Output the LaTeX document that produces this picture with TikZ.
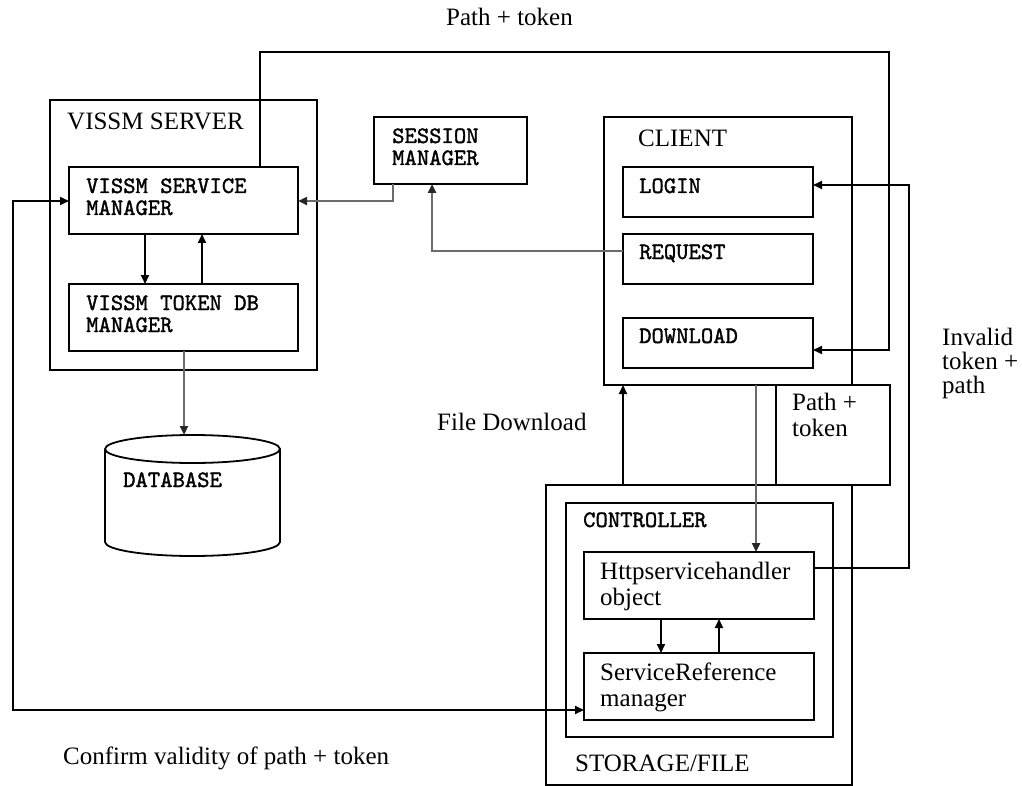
\documentclass[tikz,border=0pt]{standalone}
\usepackage{fontspec}
\setmainfont{Liberation Serif}
\newfontfamily\boxmono[FakeBold=1.4]{lmmono10-regular.otf}
\usetikzlibrary{arrows.meta}

\begin{document}
\begin{tikzpicture}[x=1pt,y=-1pt,
  box/.style={draw, line width=1.8pt, inner sep=0pt, outer sep=0pt, anchor=north west},
  % text nodes are placed at the baseline of their last line
  serif/.style={font=\fontsize{25}{26}\selectfont, inner sep=0pt, anchor=base west, align=left},
  mono/.style={font=\boxmono\fontsize{23.5}{22}\selectfont, inner sep=0pt, anchor=base west, align=left},
  link/.style={line width=1.8pt, -{Triangle[length=9pt,width=8pt]}},
  glink/.style={line width=2.4pt, draw=black!58, -{Triangle[length=9pt,width=8pt,color=black!85]}},
  both/.style={line width=1.8pt, {Triangle[length=9pt,width=8pt]}-{Triangle[length=9pt,width=8pt]}},
]
% canvas
\fill[white] (0,0) rectangle (1022,786);
\useasboundingbox (0,0) rectangle (1022,786);

% ---- server side ----
\node[box, minimum width=267, minimum height=270] (server) at (50,100) {};
\node[serif] (server-t) at (67,130) {VISSM SERVER};
\node[box, minimum width=229, minimum height=67] (vsm) at (69,167) {};
\node[mono] (vsm-t) at (86,215) {VISSM SERVICE\\MANAGER};
\node[box, minimum width=229, minimum height=67] (tdb) at (69,284) {};
\node[mono] (tdb-t) at (86,332) {VISSM TOKEN DB\\MANAGER};

% database cylinder
\draw[line width=1.8pt, fill=white] (105,449) -- (105,542)
  arc[start angle=180, end angle=0, x radius=87.5, y radius=14] -- (280,449);
\draw[line width=1.8pt] (192.5,449) ellipse [x radius=87.5, y radius=14];
\coordinate (dbtop) at (184,435);
\node[mono] (db-t) at (123,487) {DATABASE};

% session manager
\node[box, minimum width=153, minimum height=67] (sess) at (374,117) {};
\node[mono] (sess-t) at (392,165) {SESSION\\MANAGER};

% ---- client ----
\node[box, minimum width=248, minimum height=268] (client) at (604,117) {};
\node[serif] (client-t) at (638,147) {CLIENT};
\node[box, minimum width=190, minimum height=50] (login) at (623,167) {};
\node[mono] (login-t) at (639,193) {LOGIN};
\node[box, minimum width=190, minimum height=50] (request) at (623,234) {};
\node[mono] (request-t) at (639,259) {REQUEST};
\node[box, minimum width=190, minimum height=50] (download) at (623,318) {};
\node[mono] (download-t) at (639,343) {DOWNLOAD};

% ---- storage ----
\node[box, minimum width=306, minimum height=300] (storage) at (546,485) {};
\node[serif] (storage-t) at (575,771) {STORAGE/FILE};
\node[box, minimum width=267, minimum height=234] (ctrl) at (566,503) {};
\node[mono] (ctrl-t) at (583,527) {CONTROLLER};
\node[box, minimum width=230, minimum height=67] (http) at (584,552) {};
\node[serif] (http-t) at (600,605) {Httpservicehandler\\object};
\node[box, minimum width=230, minimum height=67] (sref) at (584,653) {};
\node[serif] (sref-t) at (600,706) {ServiceReference\\manager};

% path + token note box
\node[box, fill=white, minimum width=114, minimum height=100] (pbox) at (776,385) {};
\node[serif] (pbox-t) at (792,436) {Path +\\token};

% free labels
\node[serif] (lbl-top) at (446,26) {Path + token};
\node[serif] (lbl-file) at (437,430) {File Download};
\node[serif, font=\fontsize{25}{24}\selectfont] (lbl-inv) at (942,393) {Invalid\\token +\\path};
\node[serif] (lbl-conf) at (63,764) {Confirm validity of path + token};

% guide points for connector routing
\coordinate (g1) at (145,0);
\coordinate (g2) at (202,0);
\coordinate (g3) at (184,0);
\coordinate (s1) at (393,201);
\coordinate (r1) at (432,251);
\coordinate (t1) at (260,52);
\coordinate (t2) at (889,350);
\coordinate (i1) at (909,568);
\coordinate (i2) at (909,185);
\coordinate (f1) at (623,0);
\coordinate (d1) at (756,0);
\coordinate (h1) at (661,0);
\coordinate (h2) at (719,0);
\coordinate (c1) at (13,201);
\coordinate (c2) at (13,710);

% ---- connectors ----
\draw[link] (vsm.south -| g1) -- (tdb.north -| g1);
\draw[link] (tdb.north -| g2) -- (vsm.south -| g2);
\draw[glink] (tdb.south -| g3) -- (dbtop);
\draw[glink] (sess.south -| s1) |- (vsm.east |- s1);
\draw[glink] (request.west |- r1) -| (sess.south -| r1);
\draw[link] (vsm.north -| t1) -- (t1) -| (t2) -- (download.east |- t2);
\draw[link] (http.east |- i1) -- (i1) -- (i2) -- (login.east |- i2);
\draw[link] (storage.north -| f1) -- (client.south -| f1);
\draw[glink] (client.south -| d1) -- (http.north -| d1);
\draw[link] (http.south -| h1) -- (sref.north -| h1);
\draw[link] (sref.north -| h2) -- (http.south -| h2);
\draw[both] (vsm.west |- c1) -- (c1) -- (c2) -- (sref.west |- c2);
\end{tikzpicture}
\end{document}
